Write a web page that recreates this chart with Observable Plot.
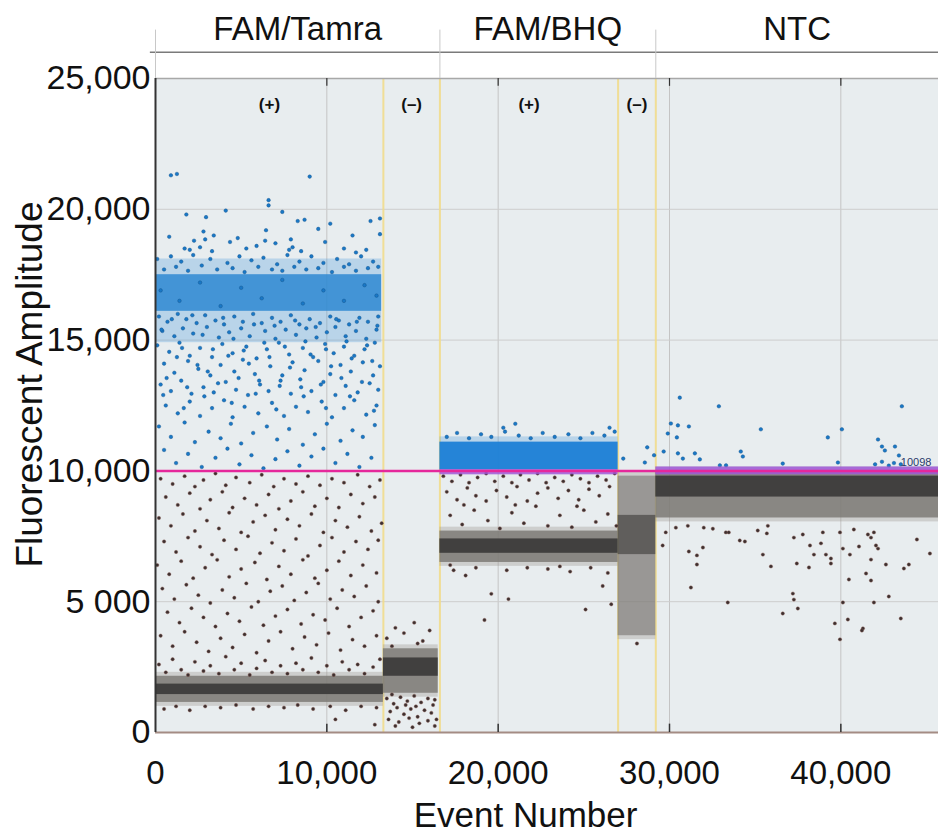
<!DOCTYPE html>
<html><head><meta charset="utf-8">
<script src="https://cdn.jsdelivr.net/npm/d3@7"></script>
<script src="https://cdn.jsdelivr.net/npm/@observablehq/plot@0.6"></script>
<style>body{margin:0;background:#fff} #chart svg{display:block}</style>
</head><body><div id="chart"></div>
<script>
// ---- wells and samples ----
const wellNames = ["FAM/Tamra", "FAM/BHQ", "NTC"];
const wellStart = [0, 16600, 29200];
const wellEnd = [16600, 29200, 45700];
const sampleLabels = ["(+)", "(–)", "(+)", "(–)"];
const sampleStart = [0, 13300, 16600, 27000];
const sampleEnd = [13300, 16600, 27000, 29200];
const sampleBoundaries = [13300, 16600, 27000, 29200];
const threshold = 10000;

// ---- ticks ----
const yTicks = [0, 5000, 10000, 15000, 20000, 25000];
const yTickLabels = ["0", "5 000", "10,000", "15,000", "20,000", "25,000"];
const xTicks = [0, 10000, 20000, 30000, 40000];
const xTickLabels = ["0", "10,000", "20,000", "30,000", "40,000"];

// ---- dense negative (gray) droplet clusters ----
const negClusterX1 = [0, 13300, 16600, 27000, 29200];
const negClusterX2 = [13300, 16500, 27000, 29200, 45700];
const negClusterLo = [1150, 1500, 6500, 3700, 8200];
const negClusterHi = [2150, 3200, 7700, 9800, 10000];
const negCoreLo = [1450, 2150, 6850, 6800, 9000];
const negCoreHi = [1850, 2850, 7400, 8300, 9800];

// ---- dense positive (blue) droplet clusters ----
const posClusterX1 = [0, 16600];
const posClusterX2 = [13200, 27000];
const posClusterLo = [16100, 10050];
const posClusterHi = [17500, 11100];
const posHaloLo = [14900, 10000];
const posHaloHi = [18100, 11300];

// ---- overlap strip of blue droplets on threshold ----
const stripX1 = [16600, 29200];
const stripX2 = [27000, 45700];
const stripLo = [9850, 9850];
const stripHi = [10050, 10150];

// ---- sparse positive droplets (blue) ----
const posDots = [
[900,21300],[1250,21350],[9000,21250],[6600,20350],[6600,20150],[4100,19950],[7400,19900],[1800,19800],[2950,19700],[8300,19550],[8700,19600],[10200,19450],[12550,19550],[13100,19650],[2800,19150],[6450,19200],[9500,19250],[800,18950],[3400,19000],[4800,18900],[11500,19000],[13100,19050],[2250,18800],[2900,18850],[4350,18750],[6400,18800],[7000,18700],[7900,18850],[9900,18750],[1700,18500],[2000,18450],[2600,18550],[3300,18400],[5300,18500],[5900,18600],[7800,18450],[8000,18550],[8500,18400],[11000,18500],[11700,18350],[12300,18450],
[100,18100],[900,18200],[1500,18000],[2200,18250],[3200,18100],[4200,17950],[4900,18200],[5600,18050],[6300,18150],[7100,17900],[7700,18250],[8400,18000],[9100,18200],[9800,17950],[10600,18100],[11300,17900],[12000,18200],[12700,18000],[13000,17800],[500,17700],[1200,17800],[1900,17650],[2700,17850],[3600,17700],[4500,17750],[5200,17600],[6000,17800],[6800,17700],[7400,17650],[8100,17800],[8800,17700],[9500,17750],[10300,17600],[11000,17800],[11700,17650],[12400,17750],
[300,16900],[1400,16500],[2600,17200],[3800,16300],[5000,17000],[6200,16600],[7400,17300],[8600,16400],[9800,16900],[11000,16500],[12200,17100],[12900,16700],
[200,15900],[700,15700],[1300,16000],[1800,15800],[2400,15650],[2900,15950],[3500,15750],[4000,15600],[4600,15900],[5100,15700],[5700,16000],[6200,15650],[6800,15850],[7300,15700],[7900,15950],[8400,15600],[9000,15800],[9600,15650],[10200,15900],[10700,15750],[11300,15600],[11900,15850],[12400,15700],[13000,15900],
[400,15350],[1100,15150],[1600,15450],[2200,15250],[3000,15500],[3700,15100],[4300,15300],[5000,15450],[5500,15150],[6400,15350],[7000,15050],[7600,15400],[8200,15200],[8800,15450],[9400,15100],[10000,15300],[10500,15500],[11100,15150],[11700,15350],[12300,15050],[12900,15400],
[350,15400],[950,15800],[1550,14700],[2150,15950],[2750,15200],[3350,14650],[3950,15850],[4550,15050],[5150,14600],[5750,15600],[6350,14900],[6950,15550],[7550,14750],[8150,15750],[8750,14950],[9350,15500],[9950,14650],[10550,15800],[11150,14950],[11750,15700],[12350,14800],[12950,15550],
[100,14800],[800,14550],[1400,14900],[2000,14400],[2600,14700],[3300,14350],[3900,14850],[4500,14500],[5300,14750],[5900,14300],[6500,14650],[7200,14900],[7800,14450],[8600,14700],[9200,14350],[9900,14850],[10400,14500],[11000,14750],[11600,14400],[12200,14650],[12800,14900],
[500,14100],[1100,13750],[1900,14200],[2500,13900],[3200,13650],[3800,14050],[4600,13800],[5100,14250],[5800,13700],[6700,14000],[7400,13650],[8000,14150],[8700,13850],[9500,14200],[10200,13700],[10800,14050],[11400,13800],[12100,14150],[12700,13650],[13100,14000],
[650,13550],[1250,14350],[1850,13200],[2450,14050],[3050,13800],[3650,13350],[4250,14400],[4850,13550],[5450,14100],[6050,13450],[6650,14350],[7250,13250],[7850,13950],[8450,13500],[9050,14450],[9650,13300],[10250,14000],[10850,13550],[11450,14300],[12050,13400],[12650,14200],
[300,13300],[900,13050],[1500,13450],[2100,12950],[2800,13200],[3400,13000],[4100,13400],[4700,13100],[5400,12900],[6100,13300],[6600,13050],[7300,13450],[7900,12950],[8500,13200],[9100,13050],[9800,13400],[10500,12900],[11100,13250],[11800,13000],[12500,13350],[13000,13100],
[450,12900],[1650,12400],[2850,12850],[4450,12600],[5850,12950],[7050,12350],[8650,12850],[9950,12400],[11350,12850],[12750,12300],
[600,12500],[1300,12200],[2000,12650],[2600,12100],[3300,12400],[4000,12700],[4500,12050],[5200,12450],[6000,12200],[6800,12600],[7500,12100],[8200,12450],[8900,12250],[9700,12650],[10300,12050],[11000,12400],[11600,12700],[12300,12150],[12900,12500],
[200,11700],[900,11300],[1700,11850],[2300,11100],[3100,11500],[3800,11250],[4400,11800],[5000,11050],[5700,11450],[6500,11700],[7100,11200],[7800,11600],[8600,11000],[9300,11400],[10000,11800],[10800,11150],[11500,11550],[12100,11300],[12800,11750],
[500,10800],[1200,10300],[1900,10650],[2700,10150],[3500,10500],[4200,10850],[4900,10250],[5600,10600],[6300,10100],[7000,10450],[7700,10750],[8400,10200],[9100,10550],[9800,10850],[10500,10300],[11200,10650],[11900,10150],[12600,10500],
[17000,11300],[17600,11450],[18300,11250],[19000,11400],[19600,11300],[20400,11500],[21200,11350],[21900,11250],[22600,11450],[23300,11300],[24100,11400],[24800,11250],[25500,11450],[26200,11350],[26800,11500],[21000,11800],[20300,11650],[26500,11650],
[27300,10470],[28560,10320],[28700,10900],[29100,10600],
[30600,12800],[32880,12470],[35330,11590],[30080,11810],[30490,11740],[31130,11700],[29900,11430],[30430,11280],[29660,10740],[30490,10670],[30780,10470],[31480,10670],[31770,10440],[34160,10740],[34280,10550],[39240,11280],[40060,11590],[43560,12470],[42170,11200],[42400,10930],[42570,10780],[43160,10930],[43390,10590],[32940,10210],[33300,10210],[36610,10280],[39830,10320],
[42000,10250],[42400,10350],[42800,10200],[43100,10300],[43500,10250]
];

// ---- sparse negative droplets (gray) ----
const negDots = [
[300,9700],[1000,9500],[1700,9800],[2300,9400],[2800,9650],[3500,9900],[4100,9450],[4700,9750],[5500,9550],[6200,9850],[6900,9400],[7500,9700],[8200,9500],[8900,9800],[9600,9450],[10300,9700],[11000,9550],[11800,9850],[12500,9400],[13100,9650],
[600,9000],[1300,8700],[2000,9150],[2600,8550],[3200,8900],[3900,9200],[4500,8600],[5200,8950],[5900,8700],[6600,9100],[7200,8550],[7900,8850],[8600,9200],[9300,8650],[10000,8950],[10700,8600],[11400,9100],[12100,8750],[12800,9000],
[200,8200],[900,7900],[1600,8350],[2300,7700],[3000,8100],[3700,7800],[4300,8400],[5000,7650],[5700,8050],[6400,8300],[7000,7750],[7700,8150],[8400,7900],[9100,8350],[9800,7650],[10500,8100],[11200,7850],[11900,8250],[12600,7700],[13200,8000],
[500,7300],[1200,6900],[1900,7450],[2600,7100],[3300,6800],[4000,7350],[4700,7000],[5400,7500],[6100,6850],[6800,7250],[7500,6950],[8200,7400],[8900,6750],[9600,7150],[10300,7450],[11000,6900],[11700,7300],[12400,7000],[13000,7350],
[100,6400],[800,6050],[1500,6550],[2200,5900],[2900,6300],[3600,6600],[4300,5950],[5000,6250],[5800,6500],[6500,5850],[7200,6350],[7900,6050],[8600,6600],[9300,5900],[10000,6200],[10700,6550],[11400,6000],[12100,6400],[12900,6100],
[400,5500],[1100,5100],[1800,5650],[2500,5250],[3200,4950],[3900,5450],[4600,5150],[5300,5700],[6000,5000],[6700,5400],[7400,5600],[8100,5050],[8800,5350],[9500,5700],[10200,5100],[10900,5450],[11600,5200],[12300,5600],[13000,5000],
[700,4600],[1400,4200],[2100,4750],[2800,4400],[3500,4050],[4200,4550],[4900,4250],[5600,4800],[6300,4100],[7000,4450],[7700,4700],[8500,4150],[9200,4500],[9900,4300],[10600,4750],[11300,4050],[12000,4400],[12700,4650],
[300,3700],[1000,3300],[1700,3850],[2400,3450],[3100,3100],[3800,3600],[4500,3250],[5200,3750],[5900,3050],[6600,3500],[7300,3850],[8000,3200],[8700,3650],[9400,3350],[10100,3800],[10800,3150],[11500,3550],[12200,3300],[12900,3700],
[200,2600],[600,2300],[1000,2800],[1500,2400],[1900,2200],[2300,2700],[2800,2350],[3200,2550],[3700,2250],[4100,2900],[4600,2400],[5000,2650],[5500,2200],[5900,2450],[6400,2750],[6800,2300],[7300,2550],[7700,2250],[8200,2650],[8600,2400],[9100,2850],[9500,2300],[10000,2550],[10400,2200],[10900,2700],[11300,2400],[11800,2600],[12200,2250],[12700,2500],[13100,2800],
[500,900],[1200,1000],[2000,850],[2900,1000],[3800,950],[4700,1050],[5700,900],[6600,1000],[7500,950],[8300,1050],[9200,900],[10200,1000],[11100,850],[12000,1000],[12900,950],[10500,500],[12800,300],
[13500,3600],[14000,4000],[14500,3800],[15100,4200],[15600,3500],[16000,3900],[13800,3300],[15300,3400],
[13500,1300],[13900,1100],[14300,1350],[14700,1200],[15100,1400],[15500,1150],[15900,1300],[16300,1250],[13700,800],[14100,950],[14500,700],[14900,900],[15300,600],[15700,850],[16100,750],[16400,500],[13600,500],[14200,400],[14800,550],[15400,350],[15900,450],[16300,250],[14000,250],[15000,200],[13800,1450],[15200,1000],[16200,1050],[14600,1050],
[16800,9800],[17300,9600],[17800,9850],[18300,9550],[18800,9750],[19300,9900],[19800,9600],[20300,9800],[20800,9550],[21300,9850],[21800,9650],[22300,9900],[22800,9550],[23300,9750],[23800,9600],[24300,9850],[24800,9700],[25300,9550],[25800,9800],[26300,9650],[26800,9900],
[17000,9200],[17600,8900],[18200,9350],[18700,9050],[19300,8850],[19900,9250],[20500,9000],[21100,9400],[21700,8850],[22300,9150],[22900,9350],[23500,8950],[24100,9250],[24700,8900],[25300,9300],[25900,9050],[26500,9400],
[17200,8300],[17900,7950],[18600,8500],[19400,8100],[20100,7800],[20800,8400],[21500,8000],[22200,8650],[22900,7900],[23600,8300],[24300,7850],[25000,8500],[25700,8050],[26400,8350],[26900,7900],[18000,8700],[21000,8700],[24600,8650],
[17400,6200],[18100,6000],[18700,6300],[20500,6200],[21700,6300],[22900,6250],[24200,6150],[25400,6300],[26400,6100],[19600,5300],[20600,5100],[25100,4700],[26100,5600],[26600,4900],[19200,4300],[17200,6400],[23600,6350],
[28100,3400],
[29780,7650],[30370,7830],[31070,7900],[32000,7830],[32530,7790],[33290,7650],[33460,7650],[29600,7150],[31130,6920],[31950,7070],[31600,6770],[31600,6420],[31250,5540],[33400,4970],[34100,7340],[34400,7300],[35150,7720],[35680,7610],[35740,7900],[35450,6800],[35920,6350],[37260,7450],[37780,7570],[38200,7150],[38840,7230],[38950,7650],[38430,6800],[39130,6800],[39420,6650],[39420,6460],[37430,6460],[38140,6310],[40120,7030],[40530,6800],[39950,7650],[40760,7760],[41580,7570],[41760,7450],[41930,7650],[42050,7150],[42170,7030],[41060,7110],[40470,5850],[41760,5810],[41470,6080],[41760,6610],[42630,6420],[42800,5200],[43680,6270],[43970,6420],[44440,7380],[45200,6840],[41930,4970],[40120,4970],[37200,5310],[37260,5080],[37490,4740],[36610,4550],[39650,4170],[40410,4320],[43500,4360],[41290,3980],[39950,3560],[41230,3900]
];

const idx = a => a.map((_, i) => i);

const chart = Plot.plot({
  width: 938,
  height: 834,
  marginLeft: 155,
  marginRight: 0,
  marginTop: 78,
  marginBottom: 102,
  style: {fontFamily: "'Liberation Sans', Arial, sans-serif", background: "#ffffff", color: "#111"},
  x: {domain: [0, 45700]},
  y: {domain: [0, 25000]},
  marks: [
    Plot.frame({fill: "#e8edef", stroke: null}),
    Plot.ruleX([10000, 20000, 30000, 40000], {stroke: "#c4c4c4", strokeWidth: 1}),
    Plot.ruleY([5000, 15000, 20000], {stroke: "#cdcdcd", strokeWidth: 1}),
    Plot.ruleX(sampleBoundaries, {stroke: "#f1dc8c", strokeWidth: 2, strokeOpacity: 0.9}),
    // positive clusters: halo then body
    Plot.rect(idx(posClusterX1), {x1: i => posClusterX1[i], x2: i => posClusterX2[i], y1: i => posHaloLo[i], y2: i => posHaloHi[i], fill: "#4d9bdb", fillOpacity: 0.3}),
    Plot.rect(idx(posClusterX1), {x1: i => posClusterX1[i], x2: i => posClusterX2[i], y1: i => posClusterLo[i], y2: i => posClusterHi[i], fill: i => i === 0 ? "#2a86d2" : "#1c80d6", fillOpacity: i => i === 0 ? 0.82 : 0.95}),
    Plot.dot(posDots, {x: d => d[0], y: d => d[1], r: 1.8, fill: "#1a78c6", stroke: "#0f4f86", strokeWidth: 0.4}),
    // negative clusters: halo, body, core
    Plot.rect(idx(negClusterX1), {x1: i => negClusterX1[i], x2: i => negClusterX2[i], y1: i => negClusterLo[i] - 150, y2: i => negClusterHi[i] + 150, fill: "#9a9690", fillOpacity: 0.35}),
    Plot.rect(idx(negClusterX1), {x1: i => negClusterX1[i], x2: i => negClusterX2[i], y1: i => negClusterLo[i], y2: i => negClusterHi[i], fill: "#7c7a76", fillOpacity: i => i === 3 ? 0.65 : 0.85}),
    Plot.rect(idx(negClusterX1), {x1: i => negClusterX1[i], x2: i => negClusterX2[i], y1: i => negCoreLo[i], y2: i => negCoreHi[i], fill: "#3a3937", fillOpacity: i => i === 3 ? 0.6 : 0.9}),
    Plot.dot(negDots, {x: d => d[0], y: d => d[1], r: 1.7, fill: "#3c3030", stroke: "#8a5a50", strokeWidth: 0.4}),
    // overlap strips
    Plot.rect(idx(stripX1), {x1: i => stripX1[i], x2: i => stripX2[i], y1: i => stripLo[i], y2: i => stripHi[i], fill: "#a058d8", fillOpacity: 0.85}),
    Plot.ruleY([threshold], {stroke: "#e5289b", strokeWidth: 2.5}),
    Plot.text(["10098"], {x: 43500, y: 10330, textAnchor: "start", fontSize: 11, fill: "#2a3a6a"}),
    // frame lines and ticks
    Plot.ruleY([25000], {stroke: "#a8a8a8", strokeWidth: 1.5}),
    Plot.ruleY([0], {stroke: "#a48c84", strokeWidth: 2}),
    Plot.ruleX([0], {stroke: "#333", strokeWidth: 2}),
    Plot.ruleX(xTicks.slice(1), {y1: 0, y2: 320, stroke: "#333", strokeWidth: 1.5}),
    Plot.ruleX(xTicks.slice(1), {y1: 24700, y2: 25000, stroke: "#333", strokeWidth: 1.2}),
    Plot.axisY({ticks: yTicks, tickFormat: d => yTickLabels[yTicks.indexOf(d)], tickSize: 0, tickPadding: 5, fontSize: 34, label: null}),
    Plot.axisX({ticks: xTicks, tickFormat: d => xTickLabels[xTicks.indexOf(d)], tickSize: 0, tickPadding: 28, fontSize: 33, label: null}),
    // header
    Plot.ruleY([26000], {x1: -300, x2: 45700, stroke: "#7a7a7a", strokeWidth: 1.5}),
    Plot.ruleX(wellStart, {y1: 25000, y2: 26850, stroke: "#c8c8c8", strokeWidth: 1}),
    Plot.text(wellNames, {x: (d, i) => (wellStart[i] + wellEnd[i]) / 2, y: 26000, dy: -12, lineAnchor: "bottom", fontSize: 33, fill: "#111"}),
    Plot.text(sampleLabels, {x: (d, i) => (sampleStart[i] + sampleEnd[i]) / 2, y: 24000, fontSize: 17, fontWeight: "bold", fill: "#111"}),
    // axis titles
    Plot.text(["Fluorescent Amplitude"], {frameAnchor: "left", y: 13300, dx: -125, rotate: -90, textAnchor: "middle", lineAnchor: "middle", fontSize: 37, fill: "#111"}),
    Plot.text(["Event Number"], {x: 21600, frameAnchor: "bottom", dy: 83, textAnchor: "middle", lineAnchor: "middle", fontSize: 35, fill: "#111"})
  ]
});
document.getElementById("chart").appendChild(chart);
</script>
</body></html>
